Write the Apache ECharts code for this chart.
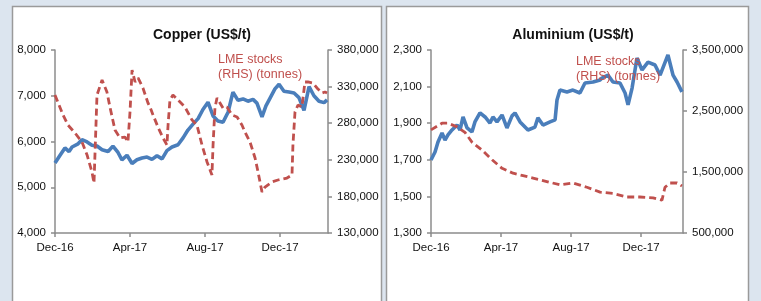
<!DOCTYPE html>
<html>
<head>
<meta charset="utf-8">
<script src="https://cdn.jsdelivr.net/npm/echarts@6/dist/echarts.min.js"></script>
<style>
  html, body { margin: 0; padding: 0; background: #dce5ef; }
  #main { width: 761px; height: 301px; }
</style>
</head>
<body>
<div id="main"></div>
<script>
// x = months since Dec-16
var tickLabels = ['Dec-16', 'Apr-17', 'Aug-17', 'Dec-17'];

// copper price, US$/t (left axis)
var copperPrice = [
  [0.00, 5530], [0.27, 5700], [0.53, 5860], [0.75, 5780], [0.91, 5880], [1.23, 5950],
  [1.44, 6040], [1.71, 5990], [1.97, 5920], [2.24, 5900], [2.51, 5820], [2.83, 5780],
  [3.09, 5900], [3.36, 5760], [3.57, 5600], [3.84, 5700], [4.11, 5520], [4.37, 5600],
  [4.64, 5640], [4.91, 5660], [5.17, 5610], [5.44, 5690], [5.71, 5620], [5.97, 5800],
  [6.24, 5880], [6.56, 5930], [6.83, 6080], [7.09, 6250], [7.36, 6380], [7.63, 6500],
  [7.89, 6700], [8.16, 6860], [8.43, 6560], [8.69, 6450], [8.96, 6420], [9.23, 6640],
  [9.49, 7080], [9.76, 6900], [10.03, 6930], [10.29, 6880], [10.56, 6920], [10.77, 6840],
  [11.04, 6540], [11.25, 6780], [11.47, 6950], [11.73, 7150], [11.95, 7250], [12.21, 7100],
  [12.48, 7080], [12.75, 7060], [13.01, 6960], [13.28, 6680], [13.55, 7200], [13.81, 7000],
  [14.08, 6880], [14.35, 6850], [14.51, 6910]
];

// copper LME stocks, tonnes (right axis)
var copperStocks = [
  [0.00, 318500], [0.43, 291200], [0.69, 277500], [1.07, 266600], [1.44, 254300],
  [1.71, 236600], [1.97, 213300], [2.08, 198300], [2.24, 318500], [2.51, 339000],
  [2.77, 322600], [2.93, 302100], [3.20, 270700], [3.47, 259800], [3.73, 261100],
  [3.89, 254300], [4.00, 295300], [4.11, 352700], [4.27, 336300], [4.43, 341800],
  [4.69, 328100], [4.96, 307600], [5.07, 302100], [5.23, 291200], [5.49, 274800],
  [5.76, 259800], [5.97, 250200], [6.03, 277500], [6.13, 311700], [6.29, 318500],
  [6.56, 311700], [6.93, 302100], [7.31, 284300], [7.57, 277500], [7.84, 250200],
  [8.11, 227000], [8.37, 209200], [8.43, 250200], [8.53, 300800], [8.64, 314400],
  [8.80, 307600], [8.96, 300800], [9.17, 302100], [9.44, 291200], [9.71, 288500],
  [9.97, 277500], [10.13, 268000], [10.40, 254300], [10.67, 232500], [10.83, 213300],
  [11.04, 186000], [11.20, 192800], [11.57, 199700], [11.89, 202400], [12.37, 205100],
  [12.64, 209200], [12.69, 250200], [12.80, 295300], [12.96, 304900], [13.17, 302100],
  [13.33, 336300], [13.49, 336300], [13.76, 334900], [13.97, 328100], [14.24, 321300],
  [14.40, 322600], [14.51, 321300]
];

// aluminium price, US$/t (left axis)
var aluPrice = [
  [0.00, 1699], [0.23, 1743], [0.40, 1797], [0.63, 1846], [0.80, 1808], [0.97, 1836],
  [1.20, 1863], [1.49, 1890], [1.66, 1863], [1.83, 1934], [2.06, 1874], [2.34, 1852],
  [2.51, 1907], [2.80, 1956], [3.09, 1934], [3.37, 1901], [3.54, 1934], [3.77, 1907],
  [4.06, 1945], [4.34, 1874], [4.63, 1940], [4.80, 1956], [5.09, 1907], [5.54, 1863],
  [5.94, 1879], [6.11, 1929], [6.40, 1890], [6.80, 1907], [7.09, 1918], [7.20, 2027],
  [7.37, 2081], [7.77, 2071], [8.11, 2081], [8.51, 2065], [8.80, 2120], [9.26, 2125],
  [9.66, 2136], [9.77, 2147], [10.11, 2163], [10.40, 2125], [10.80, 2120], [11.09, 2065],
  [11.26, 2000], [11.49, 2092], [11.77, 2256], [12.06, 2191], [12.40, 2234], [12.80, 2218],
  [13.09, 2163], [13.54, 2273], [13.83, 2163], [14.06, 2125], [14.34, 2071]
];

// aluminium LME stocks, tonnes (right axis)
var aluStocks = [
  [0.00, 2190000], [0.63, 2300000], [0.97, 2300000], [1.49, 2240000], [1.94, 2150000],
  [2.34, 1990000], [2.91, 1860000], [3.49, 1700000], [4.06, 1560000], [4.69, 1480000],
  [5.26, 1440000], [5.83, 1400000], [6.40, 1360000], [6.80, 1330000], [7.37, 1290000],
  [8.11, 1320000], [8.91, 1250000], [9.66, 1170000], [10.40, 1150000], [11.20, 1090000],
  [11.94, 1090000], [12.69, 1075000], [13.20, 1040000], [13.37, 1250000], [13.66, 1320000],
  [14.06, 1320000], [14.34, 1270000]
];

var FONT = '"Liberation Sans", Arial, sans-serif';
var blue = '#4a7ebb';
var red = '#c0504d';
var axisGray = '#8c8c8c';

function fmt(v) {
  return v.toLocaleString('en-US');
}

function xAxisFor(gridIndex, max) {
  return {
    type: 'value', gridIndex: gridIndex, min: 0, max: max, interval: 4,
    splitLine: { show: false },
    axisLine: { lineStyle: { color: axisGray, width: 1.5 } },
    axisTick: { length: 4, lineStyle: { color: axisGray, width: 1.5 } },
    axisLabel: {
      margin: 9, color: '#111', fontFamily: FONT, fontSize: 11.5,
      showMaxLabel: false,
      formatter: function (v) { return tickLabels[Math.round(v / 4)] || ''; }
    }
  };
}

function yAxisFor(gridIndex, pos, min, max, interval) {
  return {
    type: 'value', gridIndex: gridIndex, position: pos,
    min: min, max: max, interval: interval,
    splitLine: { show: false },
    axisLine: { show: true, lineStyle: { color: axisGray, width: 1.5 } },
    axisTick: { show: true, length: 4, lineStyle: { color: axisGray, width: 1.5 } },
    axisLabel: {
      margin: 9, color: '#111', fontFamily: FONT, fontSize: 11.5,
      formatter: fmt
    }
  };
}

function lineSeries(name, x, y, data, color, dashed) {
  return {
    name: name, type: 'line', xAxisIndex: x, yAxisIndex: y,
    data: data, showSymbol: false, symbol: 'none',
    z: dashed ? 4 : 3,
    lineStyle: dashed
      ? { color: color, width: 2.8, type: [7, 4] }
      : { color: color, width: 3.6 }
  };
}

var myChart = echarts.init(document.getElementById('main'));

var option = {
  backgroundColor: '#dce5ef',
  animation: false,
  title: [
    { text: 'Copper (US$/t)', left: 197, top: 23, textAlign: 'center',
      textStyle: { fontFamily: FONT, fontSize: 14, fontWeight: 'bold', color: '#111' } },
    { text: 'Aluminium (US$/t)', left: 568, top: 23, textAlign: 'center',
      textStyle: { fontFamily: FONT, fontSize: 14, fontWeight: 'bold', color: '#111' } }
  ],
  graphic: [
    { type: 'rect', z: -10, shape: { x: 12.5, y: 6.5, width: 369, height: 320 },
      style: { fill: '#ffffff', stroke: '#9a9a9a', lineWidth: 1.5 } },
    { type: 'rect', z: -10, shape: { x: 386.5, y: 6.5, width: 362, height: 320 },
      style: { fill: '#ffffff', stroke: '#9a9a9a', lineWidth: 1.5 } },
    { type: 'text', left: 218, top: 52, z: 10,
      style: { text: 'LME stocks\n(RHS) (tonnes)', fill: red, font: '12.5px ' + FONT, lineHeight: 15 } },
    { type: 'text', left: 576, top: 54, z: 10,
      style: { text: 'LME stocks\n(RHS) (tonnes)', fill: red, font: '12.5px ' + FONT, lineHeight: 15 } }
  ],
  grid: [
    { left: 55, right: 433, top: 50, bottom: 68 },
    { left: 431, right: 78, top: 50, bottom: 68 }
  ],
  xAxis: [
    xAxisFor(0, 14.56),
    xAxisFor(1, 14.4)
  ],
  yAxis: [
    yAxisFor(0, 'left', 4000, 8000, 1000),
    yAxisFor(0, 'right', 130000, 380000, 50000),
    yAxisFor(1, 'left', 1300, 2300, 200),
    yAxisFor(1, 'right', 500000, 3500000, 1000000)
  ],
  series: [
    lineSeries('Copper', 0, 0, copperPrice, blue, false),
    lineSeries('LME stocks (RHS) (tonnes)', 0, 1, copperStocks, red, true),
    lineSeries('Aluminium', 1, 2, aluPrice, blue, false),
    lineSeries('LME stocks (RHS) (tonnes)', 1, 3, aluStocks, red, true)
  ]
};

myChart.setOption(option);
</script>
</body>
</html>
